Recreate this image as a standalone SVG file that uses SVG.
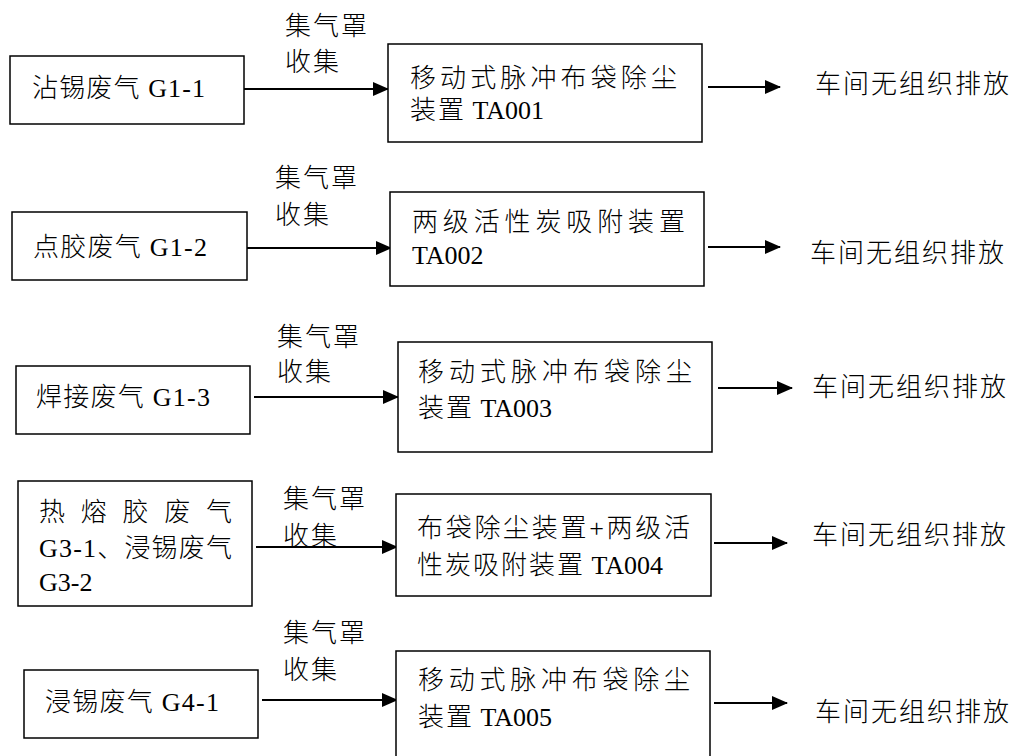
<svg xmlns="http://www.w3.org/2000/svg" width="1014" height="756" viewBox="0 0 1014 756">
<style>
.box{fill:#fff;stroke:#000;stroke-width:1.5}
.t{font-family:"Liberation Serif","Noto Sans CJK SC",serif;font-size:26px;font-weight:300;fill:#000}
.ls{letter-spacing:2px}
.ln{stroke:#000;stroke-width:2;fill:none;marker-end:url(#ah)}
</style>
<defs>
<marker id="ah" markerUnits="userSpaceOnUse" markerWidth="16" markerHeight="14" refX="15" refY="7" orient="auto">
<path d="M0,0 L16,7 L0,14 z" fill="#000"/>
</marker>
</defs>
<rect width="1014" height="756" fill="#fff"/>
<g id="connectors">
<line class="ln" x1="244" y1="89" x2="388" y2="89"/>
<line class="ln" x1="708" y1="87" x2="780" y2="87"/>
<line class="ln" x1="247" y1="248" x2="391" y2="248"/>
<line class="ln" x1="708" y1="247" x2="780" y2="247"/>
<line class="ln" x1="254" y1="397" x2="398" y2="397"/>
<line class="ln" x1="718" y1="388" x2="792" y2="388"/>
<line class="ln" x1="256" y1="547" x2="397" y2="547"/>
<line class="ln" x1="714" y1="543" x2="787" y2="543"/>
<line class="ln" x1="262" y1="700" x2="397" y2="700"/>
<line class="ln" x1="714" y1="703" x2="787" y2="703"/>
<text class="t ls" x="285" y="35">集气罩</text>
<text class="t ls" x="285" y="71">收集</text>
<text class="t ls" x="275" y="187">集气罩</text>
<text class="t ls" x="275" y="224">收集</text>
<text class="t ls" x="277" y="346">集气罩</text>
<text class="t ls" x="277" y="381">收集</text>
<text class="t ls" x="283" y="508">集气罩</text>
<text class="t ls" x="283" y="545">收集</text>
<text class="t ls" x="283" y="642">集气罩</text>
<text class="t ls" x="283" y="679">收集</text>
</g>
<g id="src1">
<rect class="box" x="10" y="56" width="234" height="68"/>
<text class="t" x="32" y="97" textLength="173" lengthAdjust="spacing">沾锡废气 G1-1</text>
</g>
<g id="dst1">
<rect class="box" x="388" y="44" width="314" height="98"/>
<text class="t" x="410" y="87" textLength="267" lengthAdjust="spacing">移动式脉冲布袋除尘</text>
<text class="t" x="410" y="119"><tspan class="ls">装置</tspan> TA001</text>
</g>
<g id="out1"><text class="t ls" x="815" y="93">车间无组织排放</text></g>
<g id="src2">
<rect class="box" x="12" y="212" width="235" height="68"/>
<text class="t" x="33" y="256" textLength="174" lengthAdjust="spacing">点胶废气 G1-2</text>
</g>
<g id="dst2">
<rect class="box" x="390" y="192" width="314" height="94"/>
<text class="t" x="412" y="231" textLength="273" lengthAdjust="spacing">两级活性炭吸附装置</text>
<text class="t" x="412" y="264">TA002</text>
</g>
<g id="out2"><text class="t ls" x="810" y="262">车间无组织排放</text></g>
<g id="src3">
<rect class="box" x="16" y="366" width="234" height="68"/>
<text class="t" x="36" y="406" textLength="174" lengthAdjust="spacing">焊接废气 G1-3</text>
</g>
<g id="dst3">
<rect class="box" x="398" y="342" width="314" height="110"/>
<text class="t" x="418" y="381" textLength="274" lengthAdjust="spacing">移动式脉冲布袋除尘</text>
<text class="t" x="418" y="417"><tspan class="ls">装置</tspan> TA003</text>
</g>
<g id="out3"><text class="t ls" x="812" y="396">车间无组织排放</text></g>
<g id="src4">
<rect class="box" x="18" y="481" width="234" height="125"/>
<text class="t" x="39" y="521" textLength="193" lengthAdjust="spacing">热熔胶废气</text>
<text class="t" x="39" y="557" textLength="193" lengthAdjust="spacing">G3-1、浸锡废气</text>
<text class="t" x="39" y="591">G3-2</text>
</g>
<g id="dst4">
<rect class="box" x="396" y="494" width="315" height="102"/>
<text class="t" x="417" y="537" textLength="273" lengthAdjust="spacing">布袋除尘装置+两级活</text>
<text class="t" x="417" y="574"><tspan class="ls">性炭吸附装置</tspan> TA004</text>
</g>
<g id="out4"><text class="t ls" x="812" y="544">车间无组织排放</text></g>
<g id="src5">
<rect class="box" x="24" y="670" width="234" height="68"/>
<text class="t" x="45" y="711" textLength="174" lengthAdjust="spacing">浸锡废气 G4-1</text>
</g>
<g id="dst5">
<rect class="box" x="396" y="651" width="314" height="115"/>
<text class="t" x="418" y="689" textLength="272" lengthAdjust="spacing">移动式脉冲布袋除尘</text>
<text class="t" x="418" y="726"><tspan class="ls">装置</tspan> TA005</text>
</g>
<g id="out5"><text class="t ls" x="815" y="721">车间无组织排放</text></g>
</svg>
